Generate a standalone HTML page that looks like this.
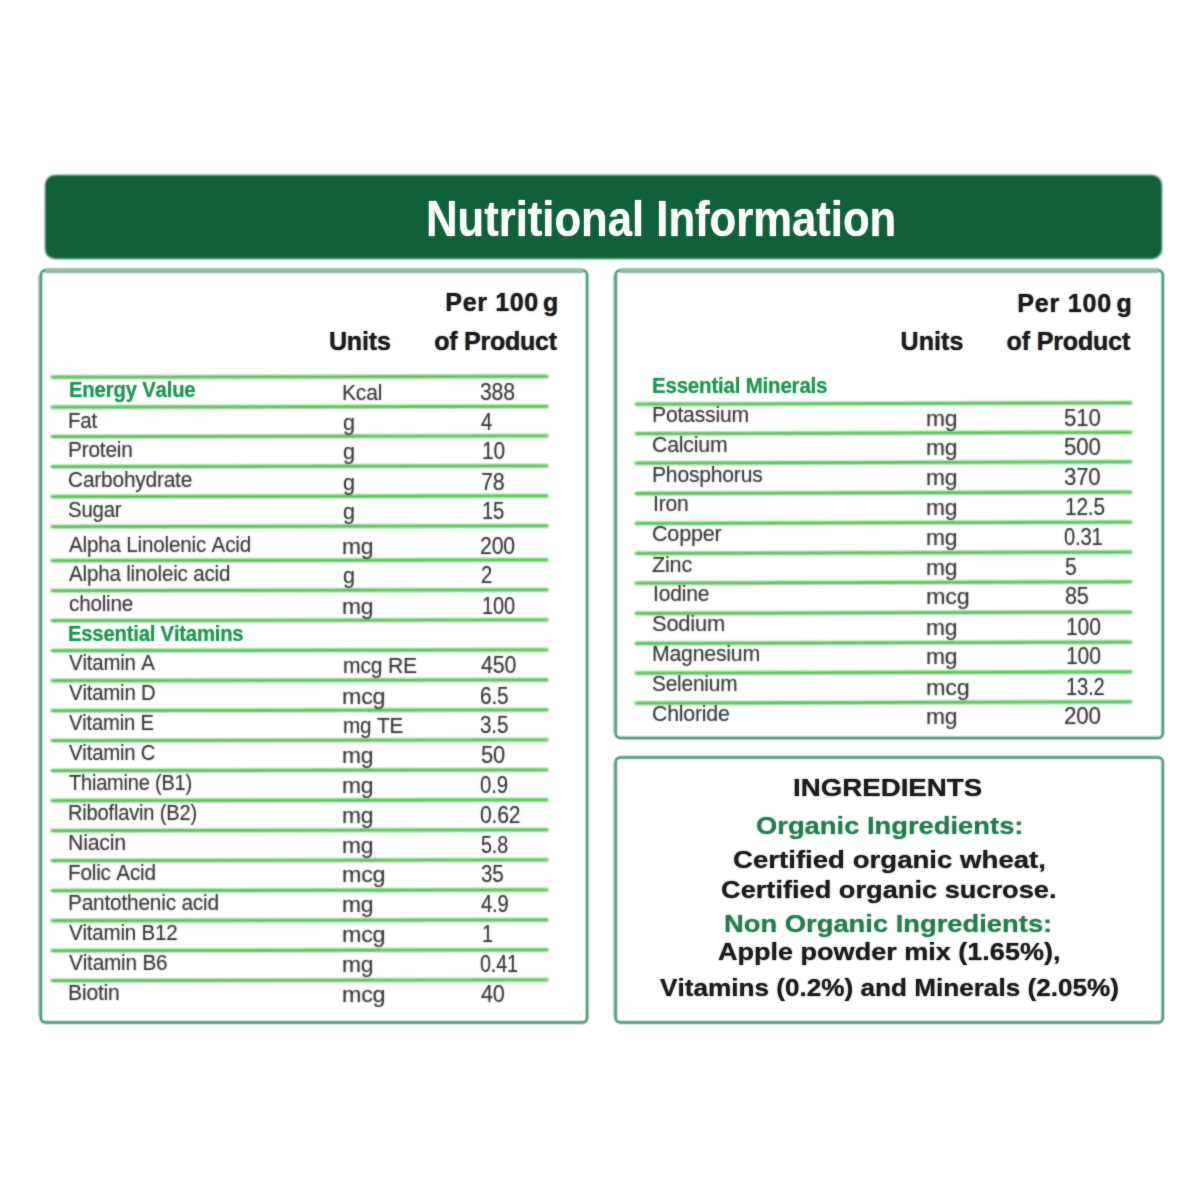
<!DOCTYPE html>
<html lang="en">
<head>
<meta charset="utf-8">
<title>Nutritional Information</title>
<style>
html,body{margin:0;padding:0;background:#fff;}
body{width:1200px;height:1200px;position:relative;overflow:hidden;font-family:"Liberation Sans",sans-serif;}
#hdr{position:absolute;left:45px;top:174.8px;width:1117px;height:83.8px;background:#10603a;border-radius:10px;filter:blur(0.85px);}
#title{position:absolute;left:0;top:0;white-space:pre;font-kerning:none;color:rgba(255,255,255,.8);text-shadow:0 0 1.7px rgba(255,255,255,.9);font-weight:bold;line-height:1;transform-origin:0 0;}
svg.layer{position:absolute;left:0;top:0;width:1200px;height:1200px;overflow:visible;}
#boxes{}
#lines{filter:blur(0.85px);}
#lines line{stroke:#47bc47;stroke-width:3.3;stroke-linecap:round;}
.t{position:absolute;white-space:pre;line-height:1;transform-origin:0 0;font-weight:normal;font-kerning:none;}
.b{font-weight:bold;}
.r{color:rgba(30,30,30,.3);text-shadow:0 0 1.7px rgba(30,30,30,.85);}
.k{color:rgba(20,20,20,.7);text-shadow:0 0 1.7px rgba(20,20,20,.9);}
.g{color:rgba(10,143,67,.45);text-shadow:0 0 1.7px rgba(10,143,67,.9);}
.ig{color:rgba(22,118,70,.6);text-shadow:0 0 1.7px rgba(22,118,70,.9);}
#txt{position:absolute;left:0;top:0;width:1200px;height:1200px;}
#ttl{position:absolute;left:0;top:0;width:1200px;height:1200px;}
</style>
</head>
<body>
<div id="hdr"></div>
<svg id="boxes" class="layer" viewBox="0 0 1200 1200">
<path d="M38.8,276.3 L38.8,1016.5" stroke="#60a586" stroke-opacity="0.3" stroke-width="2.6" fill="none"/><path d="M45.8,270.3 A5.0,5.0 0 0 0 40.8,275.3 L40.8,1017.5 A5.0,5.0 0 0 0 45.8,1022.5 L582.1,1022.5 A5.0,5.0 0 0 0 587.1,1017.5 L587.1,275.3 A5.0,5.0 0 0 0 582.1,270.3" stroke="#60a586" stroke-opacity="0.33" stroke-width="4.8" fill="none"/><path d="M45.8,270.3 A5.0,5.0 0 0 0 40.8,275.3 L40.8,1017.5 A5.0,5.0 0 0 0 45.8,1022.5 L582.1,1022.5 A5.0,5.0 0 0 0 587.1,1017.5 L587.1,275.3 A5.0,5.0 0 0 0 582.1,270.3" stroke="#60a586" stroke-width="2.5" fill="none"/><path d="M45.3,270.6 L582.6,270.6" stroke="#8fc0a6" stroke-opacity="0.4" stroke-width="6.2" fill="none"/><path d="M45.3,270.6 L582.6,270.6" stroke="#8fc0a6" stroke-width="4.2" fill="none"/>
<path d="M613.6,276.3 L613.6,732.0" stroke="#60a586" stroke-opacity="0.18" stroke-width="2.6" fill="none"/><path d="M620.6,270.3 A5.0,5.0 0 0 0 615.6,275.3 L615.6,733.0 A5.0,5.0 0 0 0 620.6,738.0 L1157.8,738.0 A5.0,5.0 0 0 0 1162.8,733.0 L1162.8,275.3 A5.0,5.0 0 0 0 1157.8,270.3" stroke="#60a586" stroke-opacity="0.33" stroke-width="4.8" fill="none"/><path d="M620.6,270.3 A5.0,5.0 0 0 0 615.6,275.3 L615.6,733.0 A5.0,5.0 0 0 0 620.6,738.0 L1157.8,738.0 A5.0,5.0 0 0 0 1162.8,733.0 L1162.8,275.3 A5.0,5.0 0 0 0 1157.8,270.3" stroke="#60a586" stroke-width="2.5" fill="none"/><path d="M620.1,270.6 L1158.3,270.6" stroke="#8fc0a6" stroke-opacity="0.4" stroke-width="6.2" fill="none"/><path d="M620.1,270.6 L1158.3,270.6" stroke="#8fc0a6" stroke-width="4.2" fill="none"/>
<path d="M613.6,763.4 L613.6,1016.5" stroke="#60a586" stroke-opacity="0.18" stroke-width="2.6" fill="none"/><path d="M620.6,757.4 A5.0,5.0 0 0 0 615.6,762.4 L615.6,1017.5 A5.0,5.0 0 0 0 620.6,1022.5 L1157.8,1022.5 A5.0,5.0 0 0 0 1162.8,1017.5 L1162.8,762.4 A5.0,5.0 0 0 0 1157.8,757.4 Z" stroke="#60a586" stroke-opacity="0.33" stroke-width="4.8" fill="none"/><path d="M620.6,757.4 A5.0,5.0 0 0 0 615.6,762.4 L615.6,1017.5 A5.0,5.0 0 0 0 620.6,1022.5 L1157.8,1022.5 A5.0,5.0 0 0 0 1162.8,1017.5 L1162.8,762.4 A5.0,5.0 0 0 0 1157.8,757.4 Z" stroke="#60a586" stroke-width="2.5" fill="none"/>
</svg>
<svg id="lines" class="layer" viewBox="0 0 1200 1200">
<line x1="52.2" y1="377.10" x2="547.0" y2="376.40"/>
<line x1="52.2" y1="407.10" x2="547.0" y2="406.40"/>
<line x1="52.2" y1="436.60" x2="547.0" y2="435.90"/>
<line x1="52.2" y1="466.60" x2="547.0" y2="465.90"/>
<line x1="52.2" y1="496.60" x2="547.0" y2="495.90"/>
<line x1="52.2" y1="526.60" x2="547.0" y2="525.90"/>
<line x1="52.2" y1="560.60" x2="547.0" y2="559.90"/>
<line x1="52.2" y1="590.60" x2="547.0" y2="589.90"/>
<line x1="52.2" y1="620.60" x2="547.0" y2="619.90"/>
<line x1="52.2" y1="650.60" x2="547.0" y2="649.90"/>
<line x1="52.2" y1="680.60" x2="547.0" y2="679.90"/>
<line x1="52.2" y1="710.60" x2="547.0" y2="709.90"/>
<line x1="52.2" y1="740.60" x2="547.0" y2="739.90"/>
<line x1="52.2" y1="770.60" x2="547.0" y2="769.90"/>
<line x1="52.2" y1="800.60" x2="547.0" y2="799.90"/>
<line x1="52.2" y1="830.60" x2="547.0" y2="829.90"/>
<line x1="52.2" y1="860.60" x2="547.0" y2="859.90"/>
<line x1="52.2" y1="890.60" x2="547.0" y2="889.90"/>
<line x1="52.2" y1="920.60" x2="547.0" y2="919.90"/>
<line x1="52.2" y1="950.60" x2="547.0" y2="949.90"/>
<line x1="52.2" y1="980.60" x2="547.0" y2="979.90"/>
<line x1="636.3" y1="404.20" x2="1130.8" y2="402.90"/>
<line x1="636.3" y1="433.70" x2="1130.8" y2="432.40"/>
<line x1="636.3" y1="463.20" x2="1130.8" y2="461.90"/>
<line x1="636.3" y1="493.50" x2="1130.8" y2="492.20"/>
<line x1="636.3" y1="523.40" x2="1130.8" y2="522.10"/>
<line x1="636.3" y1="553.40" x2="1130.8" y2="552.10"/>
<line x1="636.3" y1="583.20" x2="1130.8" y2="581.90"/>
<line x1="636.3" y1="613.40" x2="1130.8" y2="612.10"/>
<line x1="636.3" y1="643.40" x2="1130.8" y2="642.10"/>
<line x1="636.3" y1="673.20" x2="1130.8" y2="671.90"/>
<line x1="636.3" y1="703.20" x2="1130.8" y2="701.90"/>
</svg>
<div id="ttl"><span id="title" style="left:426.48px;top:193.80px;font-size:50.0px;transform:scaleX(0.8727);">Nutritional Information</span></div>
<div id="txt">
<span class="t b g" style="left:68.54px;top:379.00px;font-size:22.0px;letter-spacing:-0.200px;transform:scaleX(0.9232);">Energy Value</span>
<span class="t r" style="left:342.27px;top:381.80px;font-size:22.4px;letter-spacing:-0.200px;transform:scaleX(0.9397);">Kcal</span>
<span class="t r" style="left:480.44px;top:380.80px;font-size:23.3px;letter-spacing:-0.200px;transform:scaleX(0.9091);">388</span>
<span class="t r" style="left:68.31px;top:410.00px;font-size:22.0px;letter-spacing:-0.200px;transform:scaleX(0.9347);">Fat</span>
<span class="t r" style="left:343.09px;top:411.60px;font-size:22.4px;letter-spacing:-0.200px;transform:scaleX(0.9679);">g</span>
<span class="t r" style="left:480.79px;top:410.60px;font-size:23.3px;letter-spacing:-0.200px;transform:scaleX(0.8600);">4</span>
<span class="t r" style="left:68.49px;top:439.30px;font-size:22.0px;letter-spacing:-0.200px;transform:scaleX(0.9468);">Protein</span>
<span class="t r" style="left:343.09px;top:441.40px;font-size:22.4px;letter-spacing:-0.200px;transform:scaleX(0.9679);">g</span>
<span class="t r" style="left:482.15px;top:440.40px;font-size:23.3px;letter-spacing:-0.200px;transform:scaleX(0.9009);">10</span>
<span class="t r" style="left:67.84px;top:468.50px;font-size:22.0px;letter-spacing:-0.200px;transform:scaleX(0.9484);">Carbohydrate</span>
<span class="t r" style="left:343.09px;top:471.60px;font-size:22.4px;letter-spacing:-0.200px;transform:scaleX(0.9679);">g</span>
<span class="t r" style="left:480.89px;top:470.60px;font-size:23.3px;letter-spacing:-0.200px;transform:scaleX(0.9252);">78</span>
<span class="t r" style="left:67.98px;top:498.50px;font-size:22.0px;letter-spacing:-0.200px;transform:scaleX(0.9259);">Sugar</span>
<span class="t r" style="left:343.09px;top:501.30px;font-size:22.4px;letter-spacing:-0.200px;transform:scaleX(0.9679);">g</span>
<span class="t r" style="left:482.20px;top:500.30px;font-size:23.3px;letter-spacing:-0.200px;transform:scaleX(0.8709);">15</span>
<span class="t r" style="left:68.71px;top:533.90px;font-size:22.0px;letter-spacing:-0.200px;transform:scaleX(0.9372);">Alpha Linolenic Acid</span>
<span class="t r" style="left:342.48px;top:536.20px;font-size:22.4px;letter-spacing:-0.200px;transform:scaleX(1.0200);">mg</span>
<span class="t r" style="left:480.18px;top:535.20px;font-size:23.3px;letter-spacing:-0.200px;transform:scaleX(0.9136);">200</span>
<span class="t r" style="left:68.71px;top:562.90px;font-size:22.0px;letter-spacing:-0.200px;transform:scaleX(0.9354);">Alpha linoleic acid</span>
<span class="t r" style="left:343.09px;top:565.20px;font-size:22.4px;letter-spacing:-0.200px;transform:scaleX(0.9679);">g</span>
<span class="t r" style="left:480.98px;top:564.20px;font-size:23.3px;letter-spacing:-0.200px;transform:scaleX(0.8714);">2</span>
<span class="t r" style="left:68.62px;top:592.90px;font-size:22.0px;letter-spacing:-0.200px;transform:scaleX(0.9384);">choline</span>
<span class="t r" style="left:342.48px;top:595.60px;font-size:22.4px;letter-spacing:-0.200px;transform:scaleX(1.0200);">mg</span>
<span class="t r" style="left:482.23px;top:594.60px;font-size:23.3px;letter-spacing:-0.200px;transform:scaleX(0.8592);">100</span>
<span class="t b g" style="left:68.25px;top:622.90px;font-size:22.0px;letter-spacing:-0.200px;transform:scaleX(0.9192);">Essential Vitamins</span>
<span class="t r" style="left:68.51px;top:652.00px;font-size:22.0px;letter-spacing:-0.200px;transform:scaleX(0.9269);">Vitamin A</span>
<span class="t r" style="left:342.60px;top:655.20px;font-size:22.4px;letter-spacing:-0.200px;transform:scaleX(0.9422);">mcg RE</span>
<span class="t r" style="left:480.51px;top:654.20px;font-size:23.3px;letter-spacing:-0.200px;transform:scaleX(0.9182);">450</span>
<span class="t r" style="left:68.51px;top:682.00px;font-size:22.0px;letter-spacing:-0.200px;transform:scaleX(0.9249);">Vitamin D</span>
<span class="t r" style="left:342.45px;top:685.60px;font-size:22.4px;letter-spacing:-0.200px;transform:scaleX(1.0388);">mcg</span>
<span class="t r" style="left:480.19px;top:684.60px;font-size:23.3px;letter-spacing:-0.200px;transform:scaleX(0.8968);">6.5</span>
<span class="t r" style="left:68.51px;top:712.00px;font-size:22.0px;letter-spacing:-0.200px;transform:scaleX(0.9169);">Vitamin E</span>
<span class="t r" style="left:342.62px;top:714.70px;font-size:22.4px;letter-spacing:-0.200px;transform:scaleX(0.9248);">mg TE</span>
<span class="t r" style="left:480.46px;top:713.70px;font-size:23.3px;letter-spacing:-0.200px;transform:scaleX(0.8880);">3.5</span>
<span class="t r" style="left:68.51px;top:742.00px;font-size:22.0px;letter-spacing:-0.200px;transform:scaleX(0.9227);">Vitamin C</span>
<span class="t r" style="left:342.48px;top:745.00px;font-size:22.4px;letter-spacing:-0.200px;transform:scaleX(1.0200);">mg</span>
<span class="t r" style="left:481.12px;top:744.00px;font-size:23.3px;letter-spacing:-0.200px;transform:scaleX(0.9425);">50</span>
<span class="t r" style="left:69.35px;top:772.00px;font-size:22.0px;letter-spacing:-0.200px;transform:scaleX(0.9070);">Thiamine (B1)</span>
<span class="t r" style="left:342.48px;top:775.00px;font-size:22.4px;letter-spacing:-0.200px;transform:scaleX(1.0200);">mg</span>
<span class="t r" style="left:480.45px;top:774.00px;font-size:23.3px;letter-spacing:-0.200px;transform:scaleX(0.8757);">0.9</span>
<span class="t r" style="left:68.35px;top:802.00px;font-size:22.0px;letter-spacing:-0.200px;transform:scaleX(0.9128);">Riboflavin (B2)</span>
<span class="t r" style="left:342.48px;top:804.50px;font-size:22.4px;letter-spacing:-0.200px;transform:scaleX(1.0200);">mg</span>
<span class="t r" style="left:480.42px;top:803.50px;font-size:23.3px;letter-spacing:-0.200px;transform:scaleX(0.9082);">0.62</span>
<span class="t r" style="left:68.26px;top:832.00px;font-size:22.0px;letter-spacing:-0.200px;transform:scaleX(0.9666);">Niacin</span>
<span class="t r" style="left:342.48px;top:835.00px;font-size:22.4px;letter-spacing:-0.200px;transform:scaleX(1.0200);">mg</span>
<span class="t r" style="left:481.21px;top:834.00px;font-size:23.3px;letter-spacing:-0.200px;transform:scaleX(0.8487);">5.8</span>
<span class="t r" style="left:68.30px;top:861.75px;font-size:22.0px;letter-spacing:-0.200px;transform:scaleX(0.9409);">Folic Acid</span>
<span class="t r" style="left:342.45px;top:864.00px;font-size:22.4px;letter-spacing:-0.200px;transform:scaleX(1.0388);">mcg</span>
<span class="t r" style="left:481.22px;top:863.00px;font-size:23.3px;letter-spacing:-0.200px;transform:scaleX(0.8805);">35</span>
<span class="t r" style="left:68.29px;top:891.75px;font-size:22.0px;letter-spacing:-0.200px;transform:scaleX(0.9460);">Pantothenic acid</span>
<span class="t r" style="left:342.48px;top:894.00px;font-size:22.4px;letter-spacing:-0.200px;transform:scaleX(1.0200);">mg</span>
<span class="t r" style="left:480.79px;top:893.00px;font-size:23.3px;letter-spacing:-0.200px;transform:scaleX(0.8649);">4.9</span>
<span class="t r" style="left:68.61px;top:921.75px;font-size:22.0px;letter-spacing:-0.200px;transform:scaleX(0.9319);">Vitamin B12</span>
<span class="t r" style="left:342.45px;top:924.00px;font-size:22.4px;letter-spacing:-0.200px;transform:scaleX(1.0388);">mcg</span>
<span class="t r" style="left:482.22px;top:923.00px;font-size:23.3px;letter-spacing:-0.200px;transform:scaleX(0.8600);">1</span>
<span class="t r" style="left:68.61px;top:951.75px;font-size:22.0px;letter-spacing:-0.200px;transform:scaleX(0.9424);">Vitamin B6</span>
<span class="t r" style="left:342.48px;top:954.00px;font-size:22.4px;letter-spacing:-0.200px;transform:scaleX(1.0200);">mg</span>
<span class="t r" style="left:480.48px;top:953.00px;font-size:23.3px;letter-spacing:-0.200px;transform:scaleX(0.8489);">0.41</span>
<span class="t r" style="left:68.27px;top:981.75px;font-size:22.0px;letter-spacing:-0.200px;transform:scaleX(0.9597);">Biotin</span>
<span class="t r" style="left:342.45px;top:983.80px;font-size:22.4px;letter-spacing:-0.200px;transform:scaleX(1.0388);">mcg</span>
<span class="t r" style="left:480.75px;top:982.80px;font-size:23.3px;letter-spacing:-0.200px;transform:scaleX(0.9270);">40</span>
<span class="t b g" style="left:652.38px;top:374.70px;font-size:22.0px;letter-spacing:-0.200px;transform:scaleX(0.9305);">Essential Minerals</span>
<span class="t r" style="left:651.87px;top:404.20px;font-size:22.0px;letter-spacing:-0.200px;transform:scaleX(0.9596);">Potassium</span>
<span class="t r" style="left:926.48px;top:407.50px;font-size:22.4px;letter-spacing:-0.200px;transform:scaleX(1.0200);">mg</span>
<span class="t r" style="left:1064.11px;top:406.50px;font-size:23.3px;letter-spacing:-0.200px;transform:scaleX(0.9554);">510</span>
<span class="t r" style="left:651.92px;top:434.20px;font-size:22.0px;letter-spacing:-0.200px;transform:scaleX(0.9677);">Calcium</span>
<span class="t r" style="left:926.48px;top:437.00px;font-size:22.4px;letter-spacing:-0.200px;transform:scaleX(1.0200);">mg</span>
<span class="t r" style="left:1064.11px;top:436.00px;font-size:23.3px;letter-spacing:-0.200px;transform:scaleX(0.9554);">500</span>
<span class="t r" style="left:652.02px;top:463.70px;font-size:22.0px;letter-spacing:-0.200px;transform:scaleX(0.9579);">Phosphorus</span>
<span class="t r" style="left:926.48px;top:467.30px;font-size:22.4px;letter-spacing:-0.200px;transform:scaleX(1.0200);">mg</span>
<span class="t r" style="left:1064.15px;top:466.30px;font-size:23.3px;letter-spacing:-0.200px;transform:scaleX(0.9543);">370</span>
<span class="t r" style="left:652.55px;top:493.45px;font-size:22.0px;letter-spacing:-0.200px;transform:scaleX(0.9601);">Iron</span>
<span class="t r" style="left:926.48px;top:496.50px;font-size:22.4px;letter-spacing:-0.200px;transform:scaleX(1.0200);">mg</span>
<span class="t r" style="left:1064.67px;top:495.50px;font-size:23.3px;letter-spacing:-0.200px;transform:scaleX(0.8930);">12.5</span>
<span class="t r" style="left:651.91px;top:523.00px;font-size:22.0px;letter-spacing:-0.200px;transform:scaleX(0.9796);">Copper</span>
<span class="t r" style="left:926.48px;top:526.50px;font-size:22.4px;letter-spacing:-0.200px;transform:scaleX(1.0200);">mg</span>
<span class="t r" style="left:1064.21px;top:525.50px;font-size:23.3px;letter-spacing:-0.200px;transform:scaleX(0.8665);">0.31</span>
<span class="t r" style="left:652.31px;top:553.70px;font-size:22.0px;letter-spacing:-0.200px;transform:scaleX(0.9828);">Zinc</span>
<span class="t r" style="left:926.48px;top:556.90px;font-size:22.4px;letter-spacing:-0.200px;transform:scaleX(1.0200);">mg</span>
<span class="t r" style="left:1065.16px;top:555.90px;font-size:23.3px;letter-spacing:-0.200px;transform:scaleX(0.9052);">5</span>
<span class="t r" style="left:652.56px;top:583.20px;font-size:22.0px;letter-spacing:-0.200px;transform:scaleX(0.9565);">Iodine</span>
<span class="t r" style="left:926.45px;top:586.00px;font-size:22.4px;letter-spacing:-0.200px;transform:scaleX(1.0452);">mcg</span>
<span class="t r" style="left:1064.56px;top:585.00px;font-size:23.3px;letter-spacing:-0.200px;transform:scaleX(0.9273);">85</span>
<span class="t r" style="left:652.01px;top:613.20px;font-size:22.0px;letter-spacing:-0.200px;transform:scaleX(0.9945);">Sodium</span>
<span class="t r" style="left:926.48px;top:616.50px;font-size:22.4px;letter-spacing:-0.200px;transform:scaleX(1.0200);">mg</span>
<span class="t r" style="left:1065.89px;top:615.50px;font-size:23.3px;letter-spacing:-0.200px;transform:scaleX(0.9081);">100</span>
<span class="t r" style="left:652.01px;top:642.70px;font-size:22.0px;letter-spacing:-0.200px;transform:scaleX(0.9645);">Magnesium</span>
<span class="t r" style="left:926.48px;top:646.20px;font-size:22.4px;letter-spacing:-0.200px;transform:scaleX(1.0200);">mg</span>
<span class="t r" style="left:1065.89px;top:645.20px;font-size:23.3px;letter-spacing:-0.200px;transform:scaleX(0.9081);">100</span>
<span class="t r" style="left:652.05px;top:673.20px;font-size:22.0px;letter-spacing:-0.200px;transform:scaleX(0.9474);">Selenium</span>
<span class="t r" style="left:926.45px;top:676.50px;font-size:22.4px;letter-spacing:-0.200px;transform:scaleX(1.0452);">mcg</span>
<span class="t r" style="left:1065.96px;top:675.50px;font-size:23.3px;letter-spacing:-0.200px;transform:scaleX(0.8672);">13.2</span>
<span class="t r" style="left:651.92px;top:703.20px;font-size:22.0px;letter-spacing:-0.200px;transform:scaleX(0.9658);">Chloride</span>
<span class="t r" style="left:926.48px;top:706.20px;font-size:22.4px;letter-spacing:-0.200px;transform:scaleX(1.0200);">mg</span>
<span class="t r" style="left:1063.87px;top:705.20px;font-size:23.3px;letter-spacing:-0.200px;transform:scaleX(0.9617);">200</span>
<span class="t b k" style="left:445.33px;top:290.30px;font-size:25.0px;letter-spacing:0.645px;">Per 100<span style="margin-left:-3.3px"> g</span></span>
<span class="t b k" style="left:328.90px;top:328.90px;font-size:25.0px;letter-spacing:-0.143px;">Units</span>
<span class="t b k" style="left:434.32px;top:328.90px;font-size:25.0px;letter-spacing:-0.256px;">of Product</span>
<span class="t b k" style="left:1017.33px;top:290.50px;font-size:25.0px;letter-spacing:0.808px;">Per 100<span style="margin-left:-3.3px"> g</span></span>
<span class="t b k" style="left:900.50px;top:328.90px;font-size:25.0px;letter-spacing:0.082px;">Units</span>
<span class="t b k" style="left:1006.52px;top:328.90px;font-size:25.0px;letter-spacing:-0.134px;">of Product</span>
<span class="t b k" style="left:793.15px;top:776.30px;font-size:24.0px;transform:scaleX(1.1534);">INGREDIENTS</span>
<span class="t b ig" style="left:755.88px;top:813.80px;font-size:24.0px;transform:scaleX(1.1395);">Organic Ingredients:</span>
<span class="t b k" style="left:732.62px;top:848.30px;font-size:24.0px;transform:scaleX(1.1504);">Certified organic wheat,</span>
<span class="t b k" style="left:721.38px;top:878.30px;font-size:24.0px;transform:scaleX(1.1331);">Certified organic sucrose.</span>
<span class="t b ig" style="left:724.42px;top:911.50px;font-size:24.0px;transform:scaleX(1.1395);">Non Organic Ingredients:</span>
<span class="t b k" style="left:718.08px;top:940.30px;font-size:24.0px;transform:scaleX(1.1263);">Apple powder mix (1.65%),</span>
<span class="t b k" style="left:659.82px;top:975.90px;font-size:24.0px;transform:scaleX(1.0890);">Vitamins (0.2%) and Minerals (2.05%)</span>
</div>
</body>
</html>
